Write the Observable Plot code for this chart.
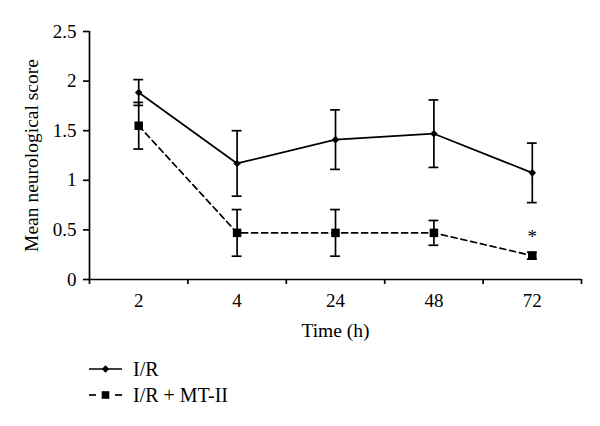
<!DOCTYPE html>
<html><head><meta charset="utf-8">
<script src="https://cdn.jsdelivr.net/npm/d3@7"></script>
<script src="https://cdn.jsdelivr.net/npm/@observablehq/plot@0.6"></script>
<style>
body{margin:0;background:#fff;font-family:"Liberation Serif","DejaVu Serif",serif;}
#wrap{position:relative;width:600px;height:426px;}
#legend{position:absolute;left:89px;top:356px;font-size:20px;color:#000;}
.row{display:flex;align-items:center;height:26px;}
.row span{margin-left:11px;white-space:nowrap;}
.row svg{display:block;}
</style></head><body><div id="wrap"></div>
<script>
const times = ["2", "4", "24", "48", "72"];
const seriesNames = ["I/R", "I/R + MT-II"];
const irMean = [1.885, 1.17, 1.41, 1.47, 1.075];
const irErr  = [0.13, 0.33, 0.30, 0.34, 0.30];
const mtMean = [1.55, 0.47, 0.47, 0.47, 0.24];
const mtErr  = [0.235, 0.235, 0.235, 0.125, 0.035];
const sigLabels = ["", "", "", "", "*"];
const yTicks = [0, 0.5, 1, 1.5, 2, 2.5];
const yLabel = "Mean neurological score";
const xLabel = "Time (h)";

const ir = times.map((t, i) => ({series: seriesNames[0], i, t, mean: irMean[i], lo: irMean[i] - irErr[i], hi: irMean[i] + irErr[i]}));
const mt = times.map((t, i) => ({series: seriesNames[1], i, t, mean: mtMean[i], lo: mtMean[i] - mtErr[i], hi: mtMean[i] + mtErr[i], sig: sigLabels[i]}));
const capHalf = 0.05;
const boundaries = d3.range(times.length + 1).map(k => k - 0.5);
const sw = 1.7;

function errorBars(data) {
  return [
    Plot.ruleX(data, {x: "i", y1: "lo", y2: "hi", strokeWidth: sw}),
    Plot.ruleY(data, {y: "hi", x1: d => d.i - capHalf, x2: d => d.i + capHalf, strokeWidth: sw}),
    Plot.ruleY(data, {y: "lo", x1: d => d.i - capHalf, x2: d => d.i + capHalf, strokeWidth: sw})
  ];
}

const plot = Plot.plot({
  width: 600, height: 345,
  marginLeft: 89, marginRight: 19, marginTop: 31, marginBottom: 66,
  style: {fontFamily: "'Liberation Serif', serif", fontSize: "19px", color: "#000", background: "transparent"},
  x: {domain: [-0.5, times.length - 0.5]},
  y: {domain: [0, 2.5]},
  marks: [
    Plot.axisY({ticks: yTicks, tickFormat: d => String(d), tickSize: 6, tickPadding: 7, label: null, strokeWidth: sw}),
    Plot.axisX({ticks: boundaries, tickFormat: () => "", tickSize: 5, label: null, strokeWidth: sw}),
    Plot.axisX({ticks: d3.range(times.length), tickFormat: i => times[i], tickSize: 0, tickPadding: 14, label: null}),
    Plot.ruleY([0], {strokeWidth: sw}),
    Plot.ruleX([-0.5], {strokeWidth: sw}),
    Plot.text([yLabel], {text: d => d, frameAnchor: "left", dx: -58, rotate: -90, fontSize: 19.5, textAnchor: "middle", lineAnchor: "middle"}),
    Plot.text([xLabel], {text: d => d, frameAnchor: "bottom", dy: 51, fontSize: 19.5, textAnchor: "middle", lineAnchor: "middle"}),
    ...errorBars(ir),
    ...errorBars(mt),
    Plot.line(ir, {x: "i", y: "mean", strokeWidth: sw}),
    Plot.line(mt, {x: "i", y: "mean", strokeWidth: sw, strokeDasharray: "6,4"}),
    Plot.dot(ir, {x: "i", y: "mean", symbol: "diamond2", r: 3.4, fill: "black", stroke: "none"}),
    Plot.dot(mt, {x: "i", y: "mean", symbol: "square", r: 4.8, fill: "black", stroke: "none"}),
    Plot.text(mt, {x: "i", y: "hi", text: "sig", dy: -15, fontSize: 19, lineAnchor: "middle"})
  ]
});

const wrap = document.getElementById("wrap");
wrap.appendChild(plot);

const legend = d3.select(wrap).append("div").attr("id", "legend");
const legendItems = [
  {name: seriesNames[0], symbol: d3.symbolDiamond2, size: Math.PI * 3.4 * 3.4, dash: null},
  {name: seriesNames[1], symbol: d3.symbolSquare, size: Math.PI * 4.3 * 4.3, dash: true}
];
legendItems.forEach(item => {
  const row = legend.append("div").attr("class", "row");
  const svg = row.append("svg").attr("width", 33).attr("height", 26);
  if (item.dash) {
    svg.append("line").attr("x1", 0).attr("x2", 7).attr("y1", 13).attr("y2", 13).attr("stroke", "#000").attr("stroke-width", sw);
    svg.append("line").attr("x1", 26).attr("x2", 33).attr("y1", 13).attr("y2", 13).attr("stroke", "#000").attr("stroke-width", sw);
  } else {
    svg.append("line").attr("x1", 0).attr("x2", 33).attr("y1", 13).attr("y2", 13).attr("stroke", "#000").attr("stroke-width", sw);
  }
  svg.append("path").attr("transform", "translate(16.5,13)").attr("d", d3.symbol(item.symbol, item.size)()).attr("fill", "#000");
  row.append("span").text(item.name);
});
</script>
</body></html>
